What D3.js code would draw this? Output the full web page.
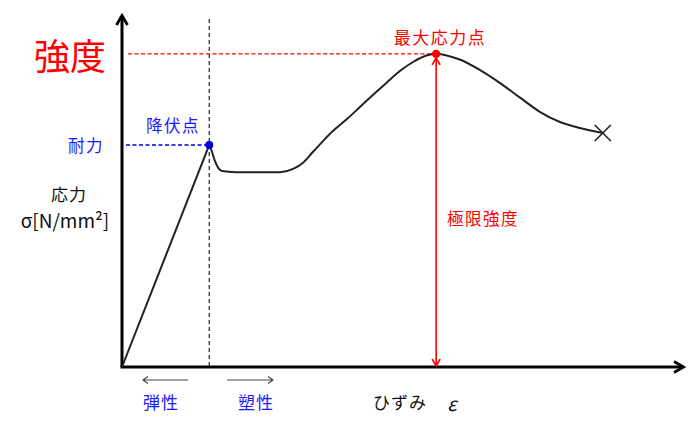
<!DOCTYPE html>
<html><head><meta charset="utf-8">
<script src="https://cdn.jsdelivr.net/npm/d3@7"></script>
<style>body{margin:0;background:#fff}svg{display:block}text{font-family:"Noto Sans CJK JP","Noto Sans",sans-serif}</style>
</head><body>
<svg id="c" width="700" height="426"></svg>
<script>
// Data (strain, stress in arbitrary units 0-100)
const elasticStrain = [0, 15.5];
const elasticStress = [0, 62.9];
const plasticStrain = [15.5, 16.0, 16.5, 17.1, 17.8, 20.1, 24.5, 28.1, 30.4, 32.1, 33.9, 35.7, 37.5, 40.0, 42.3, 44.6, 47.1, 49.4, 51.7, 54.2, 55.8, 60.0, 63.6, 67.1, 70.7, 74.2, 77.8, 81.3, 85.4];
const plasticStress = [62.9, 60.9, 58.4, 56.4, 55.5, 55.2, 55.2, 55.2, 56.1, 57.8, 60.9, 64.0, 66.9, 70.3, 73.7, 77.1, 80.7, 83.9, 86.4, 88.3, 88.7, 87.1, 84.1, 80.5, 76.3, 72.3, 69.4, 67.7, 66.3];
const yieldPoint = {strain: 15.5, stress: 62.9};
const maxPoint = {strain: 55.8, stress: 88.7};
const fracturePoint = {strain: 85.4, stress: 66.3};

const svg = d3.select("#c");
const x = d3.scaleLinear().domain([0, 100]).range([122, 685]);
const y = d3.scaleLinear().domain([0, 100]).range([367, 14]);

// Axes
const ax = svg.append("g").attr("stroke", "#000").attr("stroke-width", 3).attr("fill", "none");
ax.append("line").attr("x1", x(0)).attr("y1", y(0)).attr("x2", x(0)).attr("y2", y(100) + 2);
ax.append("line").attr("x1", x(0) - 1.5).attr("y1", y(0)).attr("x2", x(100) - 2).attr("y2", y(0));
ax.append("path").attr("stroke-linejoin", "miter").attr("stroke-width", 2.8)
  .attr("d", `M${x(0)-5.5},${y(100)+11}L${x(0)},${y(100)+1.5}L${x(0)+5.5},${y(100)+11}`);
ax.append("path").attr("stroke-linejoin", "miter").attr("stroke-width", 2.8)
  .attr("d", `M${x(100)-11},${y(0)-5.5}L${x(100)-1.5},${y(0)}L${x(100)-11},${y(0)+5.5}`);

// Dashed guide lines
svg.append("line").attr("x1", x(yieldPoint.strain)).attr("x2", x(yieldPoint.strain))
  .attr("y1", 19).attr("y2", y(0)).attr("stroke", "#333").attr("stroke-width", 1.3).attr("stroke-dasharray", "4,3");
svg.append("line").attr("x1", x(0) + 4).attr("x2", x(yieldPoint.strain))
  .attr("y1", y(yieldPoint.stress)).attr("y2", y(yieldPoint.stress))
  .attr("stroke", "#0000dd").attr("stroke-width", 1.5).attr("stroke-dasharray", "4,2.5");
svg.append("line").attr("x1", x(0) + 6).attr("x2", x(maxPoint.strain))
  .attr("y1", y(maxPoint.stress)).attr("y2", y(maxPoint.stress))
  .attr("stroke", "#ff0000").attr("stroke-width", 1.3).attr("stroke-dasharray", "4,2.5");

// Red double arrow (ultimate strength)
const rx = x(maxPoint.strain);
svg.append("line").attr("x1", rx).attr("x2", rx).attr("y1", y(maxPoint.stress) + 4).attr("y2", y(0) - 1)
  .attr("stroke", "#ff0000").attr("stroke-width", 1.6);
svg.append("path").attr("fill", "none").attr("stroke", "#ff0000").attr("stroke-width", 1.6)
  .attr("d", `M${rx-4},${y(maxPoint.stress)+11}L${rx},${y(maxPoint.stress)+4}L${rx+4},${y(maxPoint.stress)+11}`);
svg.append("path").attr("fill", "none").attr("stroke", "#ff0000").attr("stroke-width", 1.6)
  .attr("d", `M${rx-4},${y(0)-8}L${rx},${y(0)-1}L${rx+4},${y(0)-8}`);

// Curves
svg.append("path").datum(d3.zip(elasticStrain, elasticStress))
  .attr("d", d3.line().x(d => x(d[0])).y(d => y(d[1])))
  .attr("fill", "none").attr("stroke", "#222").attr("stroke-width", 2);
svg.append("path").datum(d3.zip(plasticStrain, plasticStress))
  .attr("d", d3.line().x(d => x(d[0])).y(d => y(d[1])).curve(d3.curveMonotoneX))
  .attr("fill", "none").attr("stroke", "#222").attr("stroke-width", 2).attr("stroke-linejoin", "round");

// Points
svg.append("circle").attr("cx", x(yieldPoint.strain)).attr("cy", y(yieldPoint.stress)).attr("r", 4).attr("fill", "#0000dd");
svg.append("circle").attr("cx", x(maxPoint.strain)).attr("cy", y(maxPoint.stress)).attr("r", 4.2).attr("fill", "#ff0000");
const fx = x(fracturePoint.strain), fy = y(fracturePoint.stress);
svg.append("path").attr("stroke", "#222").attr("stroke-width", 1.6).attr("fill", "none")
  .attr("d", `M${fx-8},${fy-8}L${fx+8},${fy+8}M${fx-8},${fy+8}L${fx+8},${fy-8}`);

// Elastic / plastic range arrows
const g2 = svg.append("g").attr("stroke", "#444").attr("stroke-width", 1.1).attr("fill", "none");
g2.append("path").attr("d", "M188,380L143,380M148,376.5L143,380L148,383.5");
g2.append("path").attr("d", "M227,380L273,380M268,376.5L273,380L268,383.5");

// Texts
function t(txt, tx, ty, size, color, anchor, ls) {
  return svg.append("text").attr("x", tx).attr("y", ty).attr("font-size", size).attr("fill", color)
    .attr("text-anchor", anchor || "middle").attr("dominant-baseline", "central")
    .attr("letter-spacing", ls || 0).text(txt);
}
t("強度", 70, 54, 36, "#ff0000");
t("最大応力点", 440, 36, 17, "#ff0000", "middle", 1.5);
t("極限強度", 447, 218, 16.5, "#ff0000", "start", 1.5);
t("降伏点", 173, 125, 16.5, "#1a1aff", "middle", 1.5);
t("耐力", 86, 145, 16.5, "#1a1aff", "middle", 1.5);
t("応力", 69, 193, 17, "#111", "middle", 1);
t("σ[N/mm²]", 65, 219, 19, "#111", "middle");
t("弾性", 161, 401, 17, "#1a1aff", "middle", 1);
t("塑性", 256, 401, 17, "#1a1aff", "middle", 1);
t("ひずみ", 373, 401, 17, "#111", "start", 1);
t("ε", 452, 402, 19, "#111", "middle").attr("font-style", "italic");
</script>
</body></html>
